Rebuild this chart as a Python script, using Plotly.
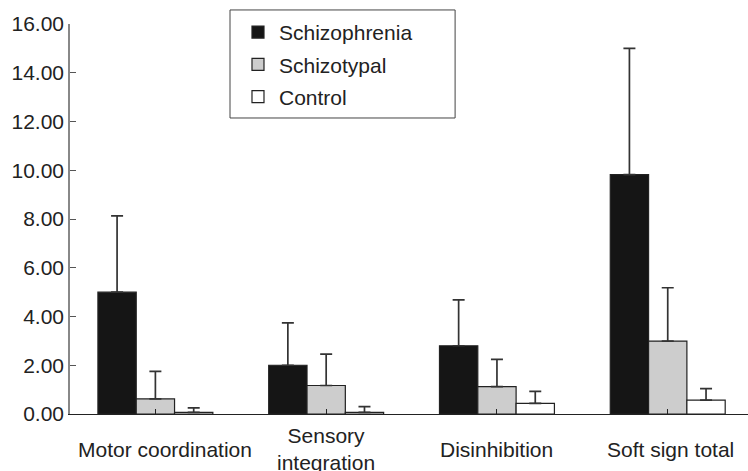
import plotly.graph_objects as go

categories = ["Motor coordination", "Sensory<br>integration", "Disinhibition", "Soft sign total"]
groups = ["Schizophrenia", "Schizotypal", "Control"]

schizophrenia_mean = [5.00, 2.00, 2.80, 9.82]
schizophrenia_sd = [3.13, 1.74, 1.88, 5.18]
schizotypal_mean = [0.62, 1.17, 1.12, 2.99]
schizotypal_sd = [1.13, 1.29, 1.12, 2.19]
control_mean = [0.07, 0.07, 0.44, 0.57]
control_sd = [0.18, 0.23, 0.49, 0.47]

means = [schizophrenia_mean, schizotypal_mean, control_mean]
sds = [schizophrenia_sd, schizotypal_sd, control_sd]
fills = ["#151515", "#cdcdcd", "#ffffff"]

FONT = "Liberation Sans, Arial, sans-serif"
xpos = list(range(len(categories)))
label_shift = [10, 0, 0, 3]

fig = go.Figure()
for i, name in enumerate(groups):
    fig.add_trace(go.Bar(
        x=xpos, y=means[i], name=name,
        legendgroup=name,
        marker=dict(color=fills[i], line=dict(color="#222222", width=1.2)),
        error_y=dict(type="data", array=sds[i], arrayminus=[0] * len(categories),
                     symmetric=False, color="#333333", thickness=1.7, width=6),
    ))

# category labels centred under each group
for i, lab in enumerate(categories):
    fig.add_annotation(x=i, y=-0.09, xref="x", yref="paper", text=lab,
                       showarrow=False, yanchor="middle", xanchor="center",
                       xshift=label_shift[i],
                       font=dict(family=FONT, size=21, color="#222222"))

# frame around the legend
fig.add_shape(type="rect", xref="paper", yref="paper",
              x0=0.236, x1=0.568, y0=0.759, y1=1.036,
              line=dict(color="#444444", width=1), fillcolor="rgba(0,0,0,0)")

fig.update_layout(
    width=748, height=471,
    margin=dict(l=70, r=0, t=24, b=57),
    paper_bgcolor="white", plot_bgcolor="white",
    barmode="group", bargap=0.327, bargroupgap=0,
    font=dict(family=FONT, size=21, color="#222222"),
    showlegend=True,
    legend=dict(x=0.2463, y=1.031, xanchor="left", yanchor="top",
                borderwidth=0, bgcolor="rgba(0,0,0,0)",
                traceorder="grouped", tracegroupgap=2,
                itemwidth=32,
                font=dict(family=FONT, size=21, color="#222222")),
    xaxis=dict(range=[-0.5, 3.47], tickmode="array", tickvals=xpos,
               showticklabels=False, tickson="boundaries",
               ticks="inside", ticklen=5, tickcolor="#222222",
               showline=True, linecolor="#222222", linewidth=1.2,
               showgrid=False, zeroline=False),
    yaxis=dict(range=[0, 16], dtick=2, tickformat=".2f",
               ticks="inside", ticklen=6, tickcolor="#555555",
               showline=True, linecolor="#888888", linewidth=1.5,
               showgrid=False, zeroline=False,
               tickfont=dict(family=FONT, size=21, color="#222222")),
)

fig.write_html("out.html")
